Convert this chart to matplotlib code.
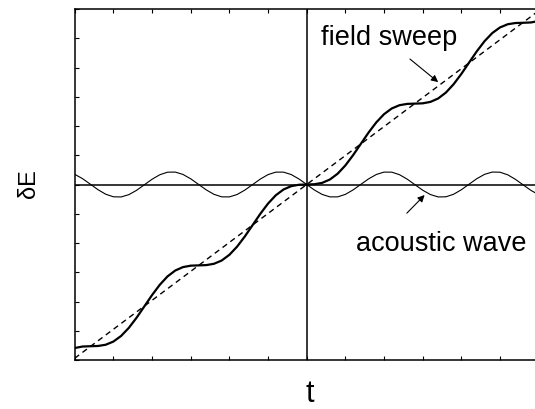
import numpy as np
import matplotlib
matplotlib.use("Agg")
import matplotlib.pyplot as plt

plt.rcParams['font.family'] = ['Liberation Sans', 'DejaVu Sans']

# time axis (arbitrary units), sampled every 0.2
t = np.round(np.arange(-6.0, 6.01, 0.2), 1)

# acoustic wave for t >= 0 (curve is odd in t)
wave_pos = [0.0, -0.189, -0.340, -0.423, -0.423, -0.338, -0.185, 0.004,
            0.192, 0.342, 0.424, 0.422, 0.335, 0.182, -0.007, -0.195,
            -0.344, -0.425, -0.421, -0.333, -0.179, 0.011, 0.199, 0.347,
            0.426, 0.420, 0.331, 0.175, -0.015, -0.202, -0.349]
# staircase energy (field sweep + acoustic wave), t >= 0
stair_pos = [0.0, 0.009, 0.056, 0.171, 0.369, 0.652, 1.003, 1.390,
             1.776, 2.124, 2.404, 2.600, 2.711, 2.756, 2.765, 2.775,
             2.824, 2.941, 3.143, 3.429, 3.781, 4.169, 4.555, 4.901,
             5.178, 5.370, 5.479, 5.521, 5.529, 5.540, 5.591]

wave = [-v for v in wave_pos[:0:-1]] + wave_pos
stair = [-v for v in stair_pos[:0:-1]] + stair_pos

# linear field sweep (dashed)
sweep_t = [-6.0, 6.0]
sweep_e = [-5.94, 5.94]

fig = plt.figure(figsize=(5.35, 4.09), dpi=100)
ax = fig.add_axes([74.7 / 535, 49 / 409, 464 / 535, 351 / 409])

ax.axhline(0, color='black', lw=1.1)
ax.axvline(0, color='black', lw=1.1)
ax.plot(sweep_t, sweep_e, color='black', lw=1.0, ls=(0, (4, 3)))
ax.plot(t, wave, color='black', lw=0.8)
ax.plot(t, stair, color='black', lw=1.6)

ax.set_xlim(-6, 6)
ax.set_ylim(-6, 6)
ax.set_xticks(np.arange(-6, 7, 1))
ax.set_yticks(np.arange(-6, 7, 1))
ax.tick_params(direction='in', length=3, width=0.8, top=True, right=True,
               labelleft=False, labelbottom=False)
for s in ax.spines.values():
    s.set_linewidth(1.1)

ax.annotate('', xy=(3.40, 3.50), xytext=(2.67, 4.29),
            arrowprops=dict(arrowstyle='-|>', color='black', lw=0.8,
                            mutation_scale=10, shrinkA=0, shrinkB=0))
ax.annotate('', xy=(3.05, -0.36), xytext=(2.59, -0.98),
            arrowprops=dict(arrowstyle='-|>', color='black', lw=0.8,
                            mutation_scale=10, shrinkA=0, shrinkB=0))

fig.text(321 / 535, 1 - 45 / 409, 'field sweep', fontsize=19.5, ha='left', va='baseline')
fig.text(356 / 535, 1 - 251 / 409, 'acoustic wave', fontsize=19.5, ha='left', va='baseline')
fig.text(29 / 535, 1 - 184 / 409, 'δE', fontsize=17, rotation=90, ha='center', va='center')
fig.text(310 / 535, 1 - 394 / 409, 't', fontsize=22, ha='center', va='center')

fig.savefig('out.png', dpi=100)
